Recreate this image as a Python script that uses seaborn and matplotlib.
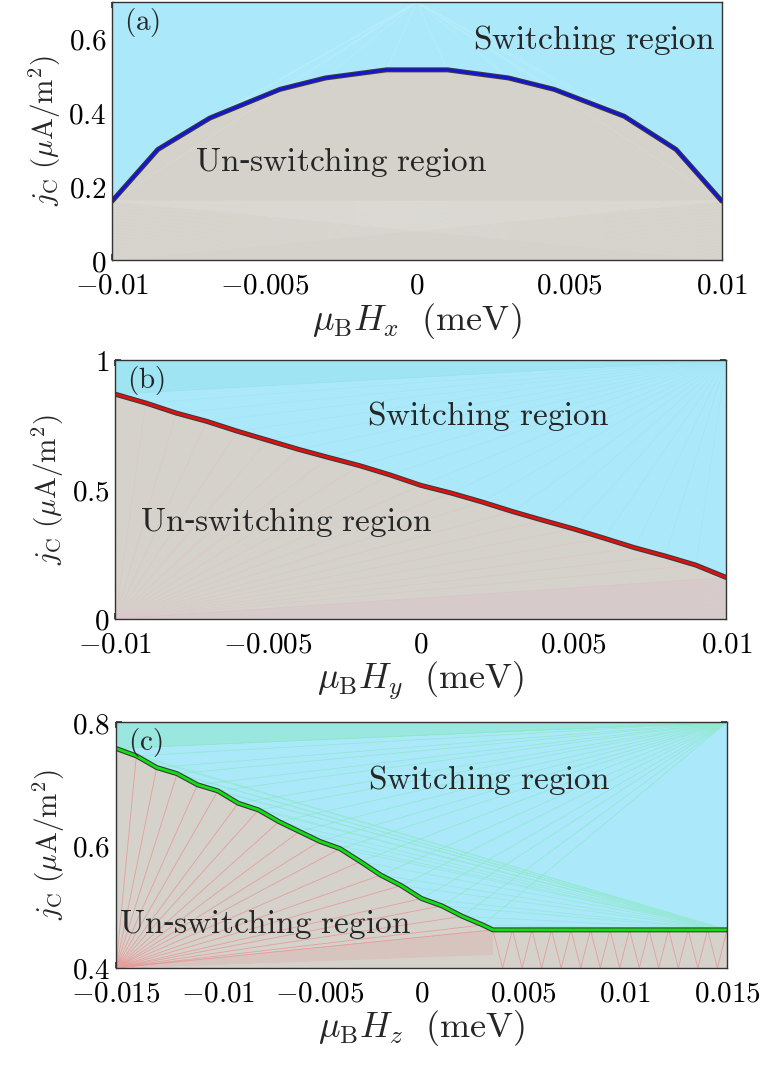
import numpy as np
import pandas as pd
import matplotlib
matplotlib.use("Agg")
import matplotlib.pyplot as plt
import matplotlib.patheffects as pe
import seaborn as sns

# ---------------- data ----------------
# panel (a): j_C vs mu_B H_x
hx = [-0.01, -0.0085, -0.0068, -0.0045, -0.003, -0.001, 0.001, 0.003, 0.0045, 0.0068, 0.0085, 0.01]
jx = [0.16, 0.30, 0.385, 0.463, 0.494, 0.516, 0.516, 0.494, 0.463, 0.39, 0.30, 0.16]

# panel (b): j_C vs mu_B H_y
hy = [-0.01, -0.009, -0.008, -0.007, -0.006, -0.005, -0.004, -0.003, -0.002, -0.001, 0.0,
      0.001, 0.002, 0.003, 0.004, 0.005, 0.006, 0.007, 0.008, 0.009, 0.01]
jy = [0.868, 0.834, 0.795, 0.763, 0.725, 0.690, 0.655, 0.623, 0.592, 0.556, 0.516,
      0.486, 0.452, 0.415, 0.381, 0.348, 0.312, 0.275, 0.243, 0.208, 0.160]

# panel (c): j_C vs mu_B H_z
hz = [-0.015, -0.014, -0.013, -0.012, -0.011, -0.010, -0.009, -0.008, -0.007, -0.006,
      -0.005, -0.004, -0.003, -0.002, -0.001, 0.0, 0.001, 0.002, 0.003, 0.0035,
      0.005, 0.007, 0.009, 0.011, 0.013, 0.015]
jz = [0.757, 0.745, 0.726, 0.716, 0.698, 0.688, 0.668, 0.657, 0.638, 0.622,
      0.606, 0.594, 0.573, 0.551, 0.534, 0.513, 0.501, 0.484, 0.470, 0.462,
      0.462, 0.462, 0.462, 0.462, 0.462, 0.462]

xticks_ab = [-0.01, -0.005, 0, 0.005, 0.01]
xticks_c = [-0.015, -0.01, -0.005, 0, 0.005, 0.01, 0.015]
yticks_a = [0, 0.2, 0.4, 0.6]
yticks_b = [0, 0.5, 1]
yticks_c = [0.4, 0.6, 0.8]

panel_labels = ["(a)", "(b)", "(c)"]
xlabels = [r"$\mu_{\mathrm{B}}H_x\ \ (\mathrm{meV})$",
           r"$\mu_{\mathrm{B}}H_y\ \ (\mathrm{meV})$",
           r"$\mu_{\mathrm{B}}H_z\ \ (\mathrm{meV})$"]
ylabel = r"$j_{\mathrm{C}}\ (\mu\mathrm{A/m}^2)$"
sw_text = r"$\mathrm{Switching\ region}$"
un_text = r"$\mathrm{Un}$-$\mathrm{switching\ region}$"

# ---------------- style ----------------
sns.set_theme(style="ticks")
plt.rcParams.update({
    "mathtext.fontset": "cm",
    "font.family": ["DejaVu Serif"],
    "axes.linewidth": 1.0,
    "axes.edgecolor": "#333333",
    "xtick.direction": "in",
    "ytick.direction": "in",
    "xtick.top": True,
    "ytick.right": True,
    "xtick.major.size": 4,
    "ytick.major.size": 4,
    "xtick.color": "#333333",
    "ytick.color": "#333333",
    "xtick.labelcolor": "black",
    "ytick.labelcolor": "black",
})

CYAN = "#ABE9FA"
GRAY = "#D5D1CB"
FS_TICK = 21
FS_XLAB = 26
FS_YLAB = 21
FS_REG = 24


def fmt(v, pos=None):
    return "$" + f"{v:g}" + "$"


def fan(ax, apex, xs, ys, color, lw=0.5, alpha=0.5):
    sx, sy = [], []
    for x, y in zip(xs, ys):
        sx += [apex[0], x, np.nan]
        sy += [apex[1], y, np.nan]
    ax.plot(sx, sy, color=color, lw=lw, alpha=alpha, zorder=2, solid_capstyle="butt")


fig = plt.figure(figsize=(7.63, 10.67), dpi=100)
positions = [
    [0.147, 0.7563, 0.799, 0.2418],
    [0.151, 0.4199, 0.801, 0.2427],
    [0.152, 0.0928, 0.801, 0.2305],
]

panels = [
    (hx, jx, (-0.01, 0.01), (0, 0.7), xticks_ab, yticks_a, "#1515d8",
     (0.0058, 0.597), (-0.0025, 0.266)),
    (hy, jy, (-0.01, 0.01), (0, 1.0), xticks_ab, yticks_b, "#e01010",
     (0.0022, 0.784), (-0.0044, 0.375)),
    (hz, jz, (-0.015, 0.015), (0.4, 0.8), xticks_c, yticks_c, "#10e010",
     (0.0033, 0.706), (-0.0077, 0.4716)),
]

for i, (xs, ys, xl, yl, xt, yt, lc, swpos, unpos) in enumerate(panels):
    ax = fig.add_axes(positions[i])
    df = pd.DataFrame({"h": xs, "j": ys})
    ax.fill_between(df["h"], df["j"], yl[1], color=CYAN, lw=0, zorder=1)
    ax.fill_between(df["h"], yl[0], df["j"], color=GRAY, lw=0, zorder=1)

    # faint rendering texture (fans of thin lines, as in the original figure)
    if i == 0:
        fan(ax, (0.0, yl[1]), xs, ys, "white", lw=0.5, alpha=0.15)
        fan(ax, (xl[0], ys[0]), np.full(40, xl[1]), np.linspace(yl[0], ys[-1], 40),
            "white", lw=0.5, alpha=0.1)
        fan(ax, (xl[1], ys[-1]), np.full(40, xl[0]), np.linspace(yl[0], ys[0], 40),
            "white", lw=0.5, alpha=0.1)
    elif i == 1:
        fan(ax, (xl[1], yl[1]), np.full(60, xl[0]), np.linspace(ys[0], yl[1], 60),
            "#7fd6e0", lw=0.6, alpha=0.25)
        fan(ax, (xl[1], yl[1]), xs, ys, "#8fdde8", lw=0.5, alpha=0.35)
        fan(ax, (xl[0], yl[0]), np.full(50, xl[1]), np.linspace(yl[0], ys[-1], 50),
            "#e0a8c8", lw=0.5, alpha=0.15)
        fan(ax, (xl[0], yl[0]), xs, ys, "#e6b4c8", lw=0.5, alpha=0.3)
    else:
        k = ys.index(min(ys))
        fan(ax, (xl[1], yl[1]), np.full(60, xl[0]), np.linspace(ys[0], yl[1], 60),
            "#7fe6b8", lw=0.7, alpha=0.4)
        fan(ax, (xl[1], yl[1]), xs[:k], ys[:k], "#7fe8b0", lw=0.6, alpha=0.55)
        fan(ax, (xl[1], ys[-1]), xs[:k], ys[:k], "#7fe8b0", lw=0.6, alpha=0.45)
        fan(ax, (xl[0], yl[0]), xs[:k + 1], ys[:k + 1], "#ec8a8a", lw=0.6, alpha=0.7)
        fan(ax, (xl[0], yl[0]), np.full(50, xs[k]), np.linspace(ys[k] - 0.04, ys[k], 50),
            "#e88a8a", lw=0.5, alpha=0.18)
        zx = np.linspace(xs[k], xl[1], 25)
        zy = np.where(np.arange(25) % 2 == 0, ys[k], yl[0])
        ax.plot(zx, zy, color="#ec8a8a", lw=0.6, alpha=0.7, zorder=2)

    sns.lineplot(data=df, x="h", y="j", ax=ax, color=lc, lw=2.0, sort=False,
                 zorder=3,
                 path_effects=[pe.Stroke(linewidth=3.6, foreground="#3a3a3a"), pe.Normal()])
    ax.set_xlim(*xl)
    ax.set_ylim(*yl)
    ax.set_xticks(xt)
    ax.set_yticks(yt)
    ax.xaxis.set_major_formatter(plt.FuncFormatter(fmt))
    ax.yaxis.set_major_formatter(plt.FuncFormatter(fmt))
    ax.tick_params(axis="x", labelsize=FS_TICK, pad=8)
    ax.tick_params(axis="y", labelsize=FS_TICK, pad=4)
    ax.set_xlabel(xlabels[i], fontsize=FS_XLAB, labelpad=1)
    ax.set_ylabel(ylabel, fontsize=FS_YLAB, labelpad=4)
    ax.text(swpos[0], swpos[1], sw_text, fontsize=FS_REG, ha="center", va="center", zorder=4)
    ax.text(unpos[0], unpos[1], un_text, fontsize=FS_REG, ha="center", va="center", zorder=4)
    ax.text(0.02, 0.985, r"$\mathrm{" + panel_labels[i] + "}$", transform=ax.transAxes,
            fontsize=FS_TICK, ha="left", va="top", zorder=4)
    for sp in ax.spines.values():
        sp.set_zorder(5)

fig.savefig("out.png", dpi=100)
